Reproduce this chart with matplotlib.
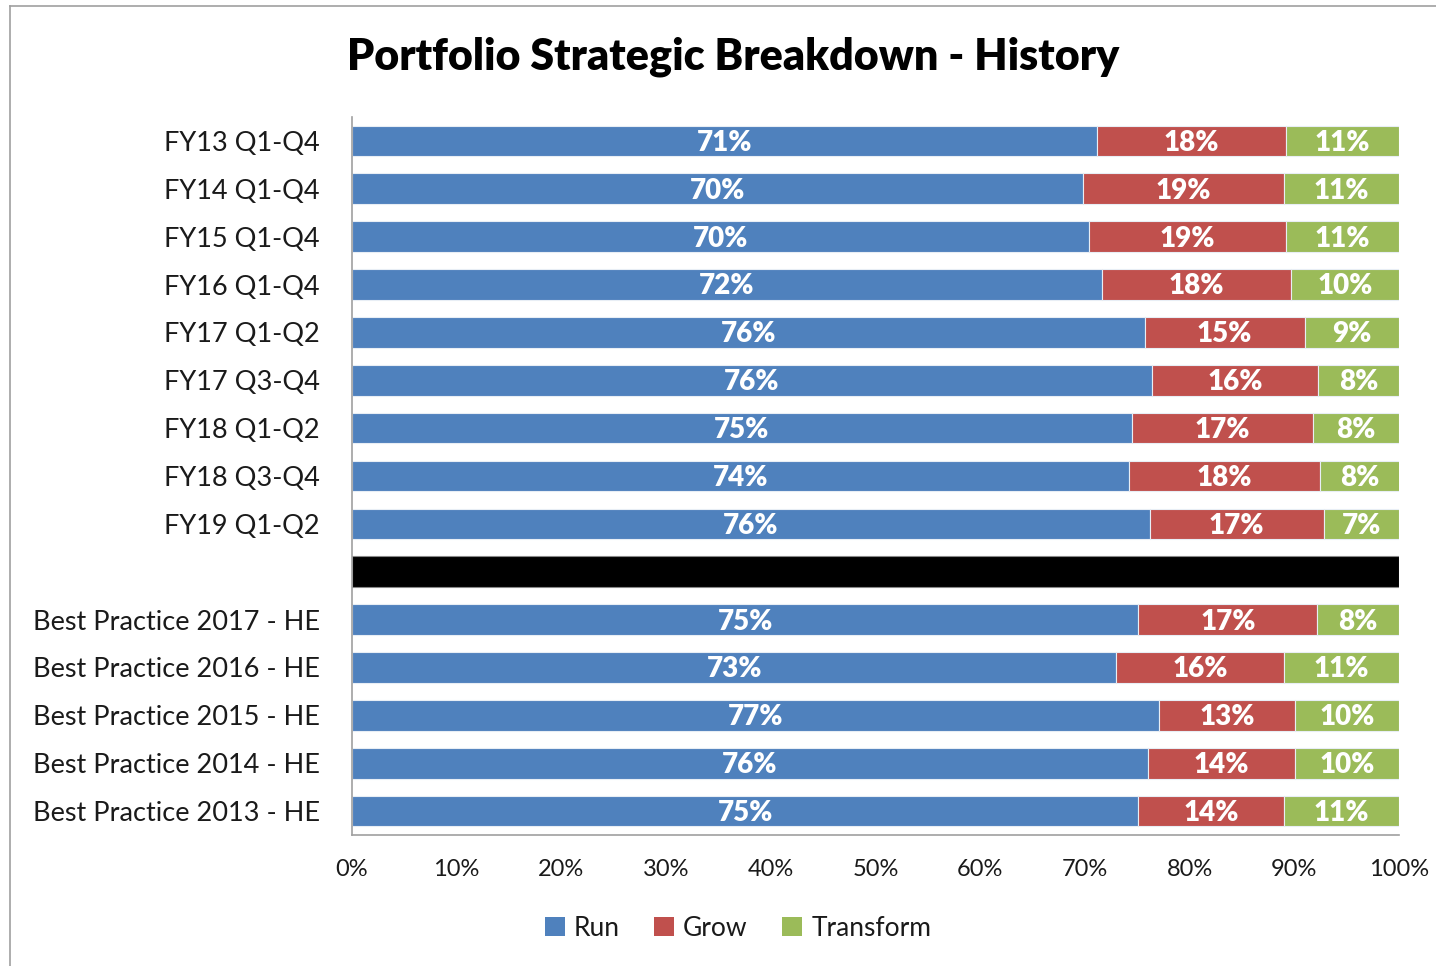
import matplotlib
matplotlib.use("Agg")
import matplotlib.pyplot as plt
from matplotlib.patches import Patch
from matplotlib.lines import Line2D
import numpy as np

plt.rcParams['font.family'] = ['Lato', 'DejaVu Sans']

# ---- data ----
categories = ["FY13 Q1-Q4", "FY14 Q1-Q4", "FY15 Q1-Q4", "FY16 Q1-Q4",
              "FY17 Q1-Q2", "FY17 Q3-Q4", "FY18 Q1-Q2", "FY18 Q3-Q4",
              "FY19 Q1-Q2",
              "Best Practice 2017 - HE", "Best Practice 2016 - HE",
              "Best Practice 2015 - HE", "Best Practice 2014 - HE",
              "Best Practice 2013 - HE"]
run =       [71.2, 69.8, 70.4, 71.6, 75.7, 76.4, 74.5, 74.2, 76.2,
             75.1, 73.0, 77.1, 76.0, 75.1]
grow =      [18.0, 19.2, 18.8, 18.1, 15.3, 15.9, 17.3, 18.3, 16.6,
             17.1, 16.0, 13.0, 14.1, 13.9]
transform = [10.8, 11.0, 10.8, 10.3, 9.0, 7.7, 8.2, 7.6, 7.2,
             7.8, 11.0, 9.9, 9.9, 11.0]
run_labels =       ["71%", "70%", "70%", "72%", "76%", "76%", "75%", "74%", "76%",
                    "75%", "73%", "77%", "76%", "75%"]
grow_labels =      ["18%", "19%", "19%", "18%", "15%", "16%", "17%", "18%", "17%",
                    "17%", "16%", "13%", "14%", "14%"]
transform_labels = ["11%", "11%", "11%", "10%", "9%", "8%", "8%", "8%", "7%",
                    "8%", "11%", "10%", "10%", "11%"]
separator_after = 9          # black divider row after the first 9 rows
separator_value = 100.0
series_names = ["Run", "Grow", "Transform"]
colors = ["#4F81BD", "#C0504D", "#9BBB59"]
xticks = [0, 10, 20, 30, 40, 50, 60, 70, 80, 90, 100]
xtick_labels = [f"{t}%" for t in xticks]

W, H = 1436, 966
fig = plt.figure(figsize=(W / 100, H / 100), dpi=100)
ax = fig.add_axes([352 / W, 1 - 835 / H, (1399 - 352) / W, (835 - 117) / H])

positions = [i if i < separator_after else i + 1 for i in range(len(categories))]
sep_pos = separator_after

bar_h = 0.64
lefts = np.zeros(len(categories))
for vals, labs, col in zip([run, grow, transform],
                           [run_labels, grow_labels, transform_labels], colors):
    bars = ax.barh(positions, vals, left=lefts, height=bar_h, color=col,
                   edgecolor="#e8eef5", linewidth=0.8)
    for b, lab in zip(bars, labs):
        ax.text(b.get_x() + b.get_width() / 2, b.get_y() + b.get_height() / 2 + 0.04, lab,
                ha="center", va="center", color="white", fontweight="heavy",
                fontsize=20)
    lefts = lefts + np.array(vals)

ax.barh([sep_pos], [separator_value], height=bar_h, color="black",
        edgecolor="#888888", linewidth=0.8)

ax.set_xlim(0, 100)
ax.set_ylim(len(categories) + 0.5, -0.5)
ax.set_yticks(positions)
ax.set_yticklabels(categories, fontsize=19.5, color="#1a1a1a")
ax.set_xticks(xticks)
ax.set_xticklabels(xtick_labels, fontsize=17, color="#1a1a1a")
ax.tick_params(axis="both", length=0)
ax.tick_params(axis="y", pad=23)
ax.tick_params(axis="x", pad=17)
for s in ["top", "right"]:
    ax.spines[s].set_visible(False)
for s in ["left", "bottom"]:
    ax.spines[s].set_color("#a0a0a0")
    ax.spines[s].set_linewidth(1.2)

fig.text(733 / W, 1 - 57 / H, "Portfolio Strategic Breakdown - History",
         ha="center", va="center", fontsize=31, fontweight="heavy", color="black")

handles = [Patch(facecolor=c, edgecolor="none") for c in colors]
fig.legend(handles, series_names, loc="center", bbox_to_anchor=(738 / W, 1 - 928 / H),
           ncol=3, frameon=False, fontsize=19, handlelength=0.75, handleheight=0.75,
           handletextpad=0.35, columnspacing=1.3, labelcolor="#1a1a1a")

# chart area border (partially visible)
fig.add_artist(Line2D([9.5 / W, 9.5 / W], [0, 1 - 6 / H], transform=fig.transFigure,
                      color="#a0a0a0", linewidth=1.2))
fig.add_artist(Line2D([9.5 / W, 1], [1 - 6 / H, 1 - 6 / H], transform=fig.transFigure,
                      color="#a0a0a0", linewidth=1.2))

fig.savefig("out.png", dpi=100)
